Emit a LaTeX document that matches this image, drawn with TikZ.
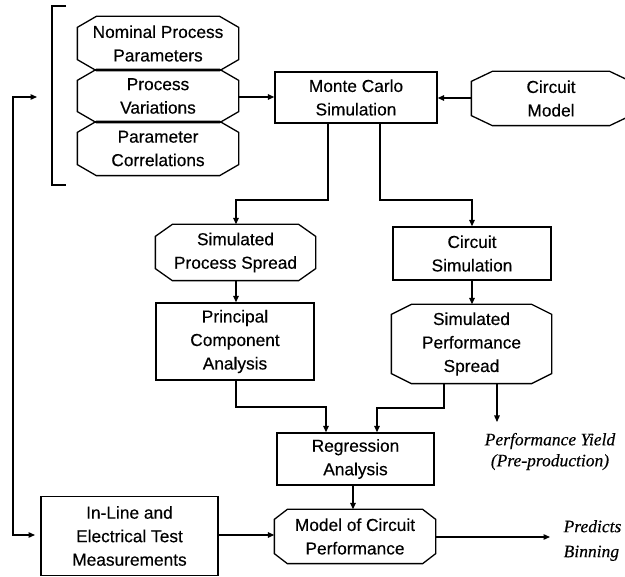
\documentclass[tikz,border=0pt]{standalone}
\usepackage{fontspec}
\setmainfont{Liberation Sans}
\newfontfamily\labelfont{Liberation Sans}[FakeBold=0.35]
\newfontfamily\serifit{Liberation Serif}[FakeBold=0.3]
\usetikzlibrary{arrows.meta}
\newcommand\octdraw[3]{\draw ([xshift=#2]#1.north west) -- ([xshift=-#2]#1.north east) -- ([yshift=-#3]#1.north east) -- ([yshift=#3]#1.south east) -- ([xshift=-#2]#1.south east) -- ([xshift=#2]#1.south west) -- ([yshift=#3]#1.south west) -- ([yshift=-#3]#1.north west) -- cycle;}
\begin{document}
\begin{tikzpicture}[x=1pt,y=-1pt, line width=1.3pt,
  >={Triangle[length=6.5pt,width=5.5pt]},
  txt/.style={inner sep=0pt, align=center, font=\labelfont\fontsize{17.3}{23.5}\selectfont},
  box/.style={txt, draw},
  oct/.style={txt},
  lbl/.style={inner sep=0pt, font=\serifit\itshape\fontsize{17.5}{21}\selectfont}]
\useasboundingbox (0,0) rectangle (625,577);

% left stack
\node[oct, minimum width=160pt, minimum height=53pt] (nom) at (158,43.5) {Nominal Process\\Parameters};
\node[oct, minimum width=160pt, minimum height=52pt] (var) at (158,96) {Process\\Variations};
\node[oct, minimum width=160pt, minimum height=53pt] (cor) at (158,148.5) {Parameter\\Correlations};
\octdraw{nom}{19pt}{11pt}
\octdraw{var}{19pt}{11pt}
\octdraw{cor}{19pt}{11pt}
\draw (66,6) -- (52,6) -- (52,185) -- (66,185);

\node[box, minimum width=162pt, minimum height=51pt] (mc) at (356,97.5) {Monte Carlo\\Simulation};
\node[oct, minimum width=158pt, minimum height=53pt] (cm) at (551,98.5) {Circuit\\Model};
\octdraw{cm}{21pt}{10pt}

\node[oct, minimum width=159pt, minimum height=55pt] (sps) at (235.5,252.5) {Simulated\\Process Spread};
\octdraw{sps}{17pt}{12pt}
\node[box, minimum width=158pt, minimum height=53pt] (cs) at (472,253.5) {Circuit\\Simulation};

\node[box, minimum width=158pt, minimum height=77pt] (pca) at (235,341.5) {Principal\\Component\\Analysis};
\node[oct, minimum width=159pt, minimum height=78pt] (spf) at (471.5,344) {Simulated\\Performance\\Spread};
\octdraw{spf}{20pt}{10pt}

\node[box, minimum width=157pt, minimum height=52pt] (reg) at (355.5,459) {Regression\\Analysis};
\node[oct, minimum width=160pt, minimum height=53pt] (mod) at (355,536.5) {Model of Circuit\\Performance};
\octdraw{mod}{13pt}{10pt}
\node[box, minimum width=177pt, minimum height=79pt] (inl) at (129.5,536) {In-Line and\\Electrical Test\\Measurements};

\node[lbl, align=center] (yield) at (550,451.5) {Performance Yield\\(Pre-production)};
\node[lbl, align=left, anchor=west, font=\serifit\itshape\fontsize{17.5}{25}\selectfont] (bin) at (563,540.5) {Predicts\\Binning};

% coordinates for free ends
\coordinate (fbA) at (37,97);
\coordinate (fbB) at (35,535);
\coordinate (yend) at (497,422);
\coordinate (bend) at (550,537);

% connectors
\draw[->] (var.east |- 0,97) -- (mc.west |- 0,97);
\draw[->] (cm.west |- 0,98) -- (mc.east |- 0,98);
\draw[->] (mc.south -| 328,0) -- (328,200) -| (sps.north -| 236,0);
\draw[->] (mc.south -| 380,0) -- (380,200) -| (cs.north);
\draw[->] (sps.south -| 236,0) -- (pca.north -| 236,0);
\draw[->] (cs.south) -- (spf.north -| cs.south);
\draw[->] (pca.south -| 236,0) -- (236,407) -| (reg.north -| 326,0);
\draw[->] (spf.south -| 444,0) -- (444,408) -| (reg.north -| 377,0);
\draw[->] (spf.south -| 497,0) -- (yend);
\draw[->] (reg.south -| 353,0) -- (mod.north -| 353,0);
\draw[->] (inl.east |- 0,535) -- (mod.west |- 0,535);
\draw[->] (mod.east |- 0,537) -- (bend);
\draw[<->] (fbA) -- (13,97) -- (13,535) -- (fbB);
\end{tikzpicture}
\end{document}
